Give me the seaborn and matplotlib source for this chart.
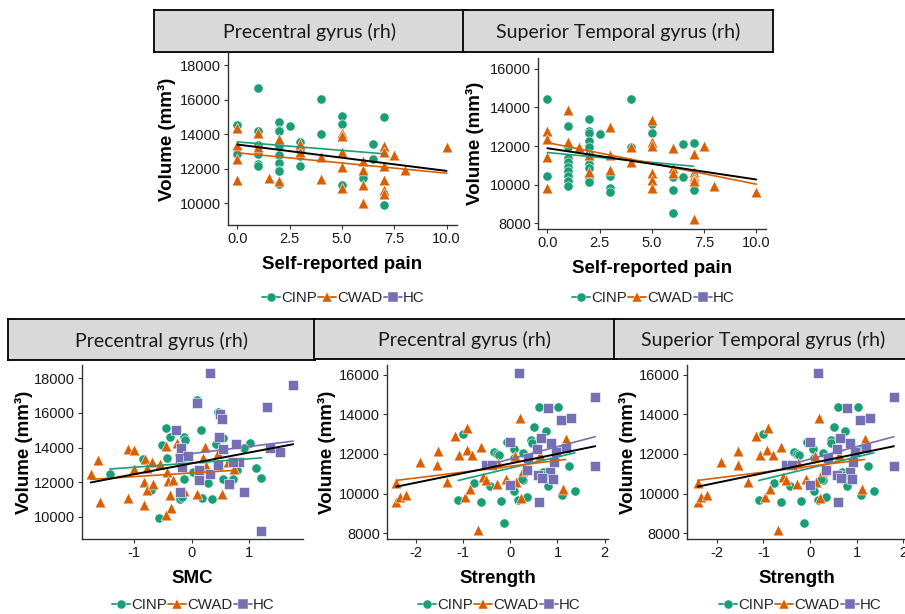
import numpy as np
import matplotlib.pyplot as plt
from matplotlib.lines import Line2D
import seaborn as sns

# Valores
# --- Dolor auto-reportado vs giro precentral (rh) ---
dolor_pre_cinp_x = [0, 0, 1, 1, 1, 1, 1, 1, 2, 2, 2, 2, 2, 2, 2, 2, 2, 2.5,
                    3, 3, 3, 3, 4, 4, 5, 5, 5, 6, 6.5, 6.5, 7, 7]
dolor_pre_cinp_y = [14540, 12835, 16690, 14200, 13370, 12835, 12280, 12130,
                    14675, 14250, 14160, 13330, 12760, 12340, 11935, 11840, 11130,
                    14440, 13560, 12990, 12700, 12130, 16015, 14020,
                    15060, 14560, 11070, 11455, 13410, 12530, 14980, 9890]
dolor_pre_cwad_x = [0, 0, 0, 0, 1, 1, 1.5, 2, 2, 3, 3, 4, 4, 5, 5, 5, 5, 5,
                    6, 6, 6, 6, 7, 7, 7, 7, 7, 7, 7.5, 8, 10]
dolor_pre_cwad_y = [14330, 13390, 12570, 11320, 14060, 13250, 11460, 13720, 11260,
                    13400, 12950, 12660, 11420, 14060, 13910, 12950, 12090, 10880,
                    12410, 11900, 11030, 10020, 13300, 12950, 12130, 11320, 10750,
                    10540, 12760, 11920, 13240]

# --- Dolor auto-reportado vs giro temporal superior (rh) ---
dolor_tmp_cinp_x = [0, 0, 1, 1, 1, 1, 1, 1, 1, 1, 1, 2, 2, 2, 2, 2, 2, 2, 2, 2,
                    2, 2, 2.5, 3, 3, 3, 4, 4, 5, 5, 6, 6, 6, 6.5, 6.5, 7, 7]
dolor_tmp_cinp_y = [14420, 10420, 13040, 11950, 11360, 11190, 10930, 10700, 10460,
                    10180, 9940, 13390, 12760, 12680, 12280, 11970, 11600, 11320,
                    11050, 10870, 10350, 10150, 12610, 10460, 9840, 9590, 14440,
                    11950, 13160, 12680, 10400, 9710, 8540, 12090, 10390, 12140, 9710]
dolor_tmp_cwad_x = [0, 0, 0, 0, 1, 1, 1.5, 2, 2, 3, 3, 3, 4, 4, 5, 5, 5, 5, 5, 5,
                    6, 6, 6, 7, 7, 7, 7, 7, 7, 7.5, 8, 10]
dolor_tmp_cwad_y = [12780, 12360, 11450, 9800, 13870, 12190, 11970, 11530, 10670,
                    12970, 11550, 10740, 11970, 11150, 13330, 12190, 12020, 10580,
                    10230, 9840, 11910, 10840, 10580, 11570, 10670, 10460, 10290,
                    10180, 8210, 12020, 9920, 9590]

# --- SMC vs giro precentral (rh) ---
smc_cinp_x = [-0.57, -0.44, -0.37, -0.14, -0.12, -0.52, 0.09, 0.16, 0.45, 0.54,
              0.43, 1.02, 0.90, -0.43, -0.84, -1.42, -0.14, 0.11, 0.28, 0.54,
              0.71, 0.78, 1.11, 1.21, -0.71, -0.20, -0.16, 0.18, 0.35, 0.03]
smc_cinp_y = [9940, 15130, 14600, 14600, 14450, 14160, 16720, 14990, 16050, 14550,
              14220, 14280, 13970, 13390, 13350, 12490, 12160, 12290, 11970, 12200,
              12160, 12680, 12810, 12240, 11520, 11040, 11140, 11080, 11040, 12580]
smc_cwad_x = [-1.75, -1.62, -1.59, -1.11, -1.00, -1.10, -0.81, -0.68, -0.77, -0.83,
              -0.77, -0.67, -0.82, -1.00, -0.55, -0.44, -0.25, -0.43, -0.41, -0.33,
              -0.37, -0.35, -0.44, -0.14, 0.09, 0.24, 0.19, 0.25, 0.45, 0.63, 0.74, 0.53]
smc_cwad_y = [12490, 13260, 10850, 13890, 13830, 11080, 13350, 13160, 12810, 12000,
              11520, 11910, 10690, 12770, 13060, 14080, 14280, 12580, 12040, 12100,
              11270, 10500, 10080, 11460, 11330, 14030, 13390, 12930, 13700, 13160,
              12740, 11330]
smc_hc_x = [0.32, 1.76, 1.30, 0.10, 0.49, 0.53, -0.27, -0.18, -0.20, -0.06, 0.48,
            0.77, 1.36, 1.53, 0.54, 0.82, 0.72, 0.12, 0.12, 0.32, 0.45, 0.64, 0.90,
            -0.20, 1.20, -0.17]
smc_hc_y = [18330, 17630, 16360, 16590, 15930, 15640, 15010, 14000, 13420, 13500,
            14630, 14200, 14000, 13750, 13890, 13180, 13180, 12700, 12100, 12470,
            12990, 11890, 11450, 11450, 9180, 12870]

# --- Fuerza vs volumen (mismo grafico en los dos paneles de la derecha) ---
fuerza_cinp_x = [0.60, 1.02, 0.51, 0.76, 0.44, 0.46, 0.62, -0.07, 0.07, -0.34, -0.28,
                 -0.23, 0.28, 1.04, 1.12, 1.25, 0.08, 0.69, 0.74, 0.80, 0.28, 0.08,
                 1.37, 1.09, 0.35, 0.17, -0.20, -0.62, -1.10, -0.77, -0.43, -0.13,
                 -1.00, 0.24]
fuerza_cinp_y = [14370, 14400, 13390, 13140, 12720, 12560, 12800, 12630, 12240, 12120,
                 11990, 11950, 12030, 12200, 12290, 11390, 11780, 11090, 10960, 10370,
                 10660, 10150, 10130, 9910, 9800, 9680, 9610, 9550, 9660, 10540, 10370,
                 8500, 12990, 10730]
fuerza_cwad_x = [-2.41, -2.41, -2.34, -2.21, -1.92, -1.54, -1.55, -1.33, -1.17, -0.91,
                 -1.08, -0.92, -0.80, -0.63, -0.96, -0.85, -0.68, -0.57, -0.52, -0.26,
                 -0.28, -0.08, 0.13, 0.20, 0.10, 0.28, 0.22, 0.63, 1.17, 1.12]
fuerza_cwad_y = [10510, 9580, 9840, 9920, 11570, 12160, 11430, 10590, 12920, 13320,
                 11970, 12190, 11940, 12360, 9840, 10220, 8150, 10850, 10680, 11550,
                 10460, 10730, 10590, 13820, 11900, 11130, 9780, 11970, 12750, 10220]
fuerza_hc_x = [0.18, 1.80, 0.80, 1.07, 1.29, -0.01, 0.65, 0.86, 1.19, 0.57, -0.51,
               -0.39, 0.93, 1.80, 0.35, 0.85, 0.58, 0.67, 0.90, -0.01, 0.61, 0.38, 0.96]
fuerza_hc_y = [16120, 14860, 14350, 13700, 13820, 12630, 12800, 12550, 12290, 12240,
               11450, 11450, 11620, 11400, 11180, 11090, 10930, 10760, 10710, 10440,
               9570, 11780, 12120]

grupos = ["CINP", "CWAD", "HC"]
colores = {"CINP": "#1B9E77", "CWAD": "#D95F02", "HC": "#7570B3"}
marcadores = {"CINP": "o", "CWAD": "^", "HC": "s"}
tamanos = {"CINP": 44, "CWAD": 60, "HC": 44}

sns.set_theme(style="white")
plt.rcParams["font.family"] = ["Liberation Sans", "DejaVu Sans"]

W, H = 905, 614
fig = plt.figure(figsize=(W / 100, H / 100), dpi=100)


def caja(l, t, r, b):
    """Pasa una caja en pixeles (izq, arriba, der, abajo) a fracciones de figura."""
    return [l / W, 1 - b / H, (r - l) / W, (b - t) / H]


def dibujar_panel(franja, marco, titulo, datos, xlim, ylim, xticks, xticklabels,
                  yticks, xlabel, ylab_x, leyenda):
    # Franja gris con el titulo (estilo facet de ggplot)
    ax_s = fig.add_axes(caja(*franja))
    ax_s.set_facecolor("#D9D9D9")
    ax_s.set_xticks([])
    ax_s.set_yticks([])
    for sp in ax_s.spines.values():
        sp.set_color("black")
        sp.set_linewidth(1.3)
    ax_s.text(0.5, 0.47, titulo, ha="center", va="center", fontsize=14,
              family=["Lato", "DejaVu Sans"], color="#1A1A1A", transform=ax_s.transAxes)

    ax = fig.add_axes(caja(*marco))
    todos_x, todos_y = [], []
    for g, (xs, ys) in datos.items():
        sns.scatterplot(x=xs, y=ys, ax=ax, color=colores[g], marker=marcadores[g],
                        s=tamanos[g], edgecolor="white", linewidth=0.4, legend=False,
                        zorder=2)
        todos_x += xs
        todos_y += ys
    for g, (xs, ys) in datos.items():
        sns.regplot(x=np.array(xs, float), y=np.array(ys, float), ax=ax, scatter=False,
                    ci=None, color=colores[g], line_kws=dict(lw=1.2, zorder=3))
    sns.regplot(x=np.array(todos_x, float), y=np.array(todos_y, float), ax=ax,
                scatter=False, ci=None, color="black", line_kws=dict(lw=1.4, zorder=4))

    ax.set_xlim(*xlim)
    ax.set_ylim(*ylim)
    ax.set_xticks(xticks)
    ax.set_xticklabels(xticklabels)
    ax.set_yticks(yticks)
    ax.set_yticklabels([str(v) for v in yticks])
    ax.tick_params(axis="both", direction="out", length=3, width=0.8, color="#333333",
                   labelsize=10.5, labelcolor="#1A1A1A", pad=2, left=True, bottom=True)
    for lado in ["top", "right"]:
        ax.spines[lado].set_visible(False)
    for lado in ["left", "bottom"]:
        ax.spines[lado].set_color("#333333")
        ax.spines[lado].set_linewidth(1.0)
    ax.set_facecolor("white")

    ax.set_xlabel(xlabel, fontsize=13.5, fontweight="bold", color="black")
    ax.set_ylabel("Volume (mm³)", fontsize=13.5, fontweight="bold", color="black")
    l, t, r, b = marco
    ax.xaxis.set_label_coords(((l + r) / 2) / W, 1 - (b + 31) / H,
                              transform=fig.transFigure)
    ax.yaxis.set_label_coords(ylab_x / W, 1 - ((t + b) / 2) / H,
                              transform=fig.transFigure)

    manijas = [Line2D([0], [0], color=colores[g], marker=marcadores[g], markersize=6.5,
                      lw=1.3, markeredgecolor="white", markeredgewidth=0.3)
               for g in grupos]
    ax.legend(manijas, grupos, loc="center", bbox_to_anchor=(leyenda[0] / W, 1 - leyenda[1] / H),
              bbox_transform=fig.transFigure, ncol=3, frameon=False, fontsize=10.8,
              handlelength=1.2, handletextpad=0.05, columnspacing=0.1,
              borderpad=0, borderaxespad=0)


dibujar_panel((154, 10, 465, 52), (228, 53, 457, 225), "Precentral gyrus (rh)",
              {"CINP": (dolor_pre_cinp_x, dolor_pre_cinp_y),
               "CWAD": (dolor_pre_cwad_x, dolor_pre_cwad_y)},
              (-0.45, 10.5), (8725, 18700), [0, 2.5, 5, 7.5, 10],
              ["0.0", "2.5", "5.0", "7.5", "10.0"], [10000, 12000, 14000, 16000, 18000],
              "Self-reported pain", 176, (343, 298))

dibujar_panel((463, 10, 773, 52), (538, 58, 766, 229), "Superior Temporal gyrus (rh)",
              {"CINP": (dolor_tmp_cinp_x, dolor_tmp_cinp_y),
               "CWAD": (dolor_tmp_cwad_x, dolor_tmp_cwad_y)},
              (-0.45, 10.47), (7690, 16570), [0, 2.5, 5, 7.5, 10],
              ["0.0", "2.5", "5.0", "7.5", "10.0"], [8000, 10000, 12000, 14000, 16000],
              "Self-reported pain", 484, (653, 298))

dibujar_panel((8, 319, 315, 360), (82, 365, 303, 539), "Precentral gyrus (rh)",
              {"CINP": (smc_cinp_x, smc_cinp_y), "CWAD": (smc_cwad_x, smc_cwad_y),
               "HC": (smc_hc_x, smc_hc_y)},
              (-1.9, 1.93), (8710, 18770), [-1, 0, 1], ["-1", "0", "1"],
              [10000, 12000, 14000, 16000, 18000], "SMC", 33, (193, 605))

dibujar_panel((314, 319, 616, 359), (387, 365, 608, 539), "Precentral gyrus (rh)",
              {"CINP": (fuerza_cinp_x, fuerza_cinp_y), "CWAD": (fuerza_cwad_x, fuerza_cwad_y),
               "HC": (fuerza_hc_x, fuerza_hc_y)},
              (-2.61, 2.07), (7697, 16505), [-2, -1, 0, 1, 2], ["-2", "-1", "0", "1", "2"],
              [8000, 10000, 12000, 14000, 16000], "Strength", 336, (499, 605))

dibujar_panel((614, 319, 912, 359), (687, 365, 907, 539), "Superior Temporal gyrus (rh)",
              {"CINP": (fuerza_cinp_x, fuerza_cinp_y), "CWAD": (fuerza_cwad_x, fuerza_cwad_y),
               "HC": (fuerza_hc_x, fuerza_hc_y)},
              (-2.64, 2.08), (7697, 16505), [-2, -1, 0, 1, 2], ["-2", "-1", "0", "1", "2"],
              [8000, 10000, 12000, 14000, 16000], "Strength", 637, (800, 605))

fig.savefig("out.png", dpi=100)
